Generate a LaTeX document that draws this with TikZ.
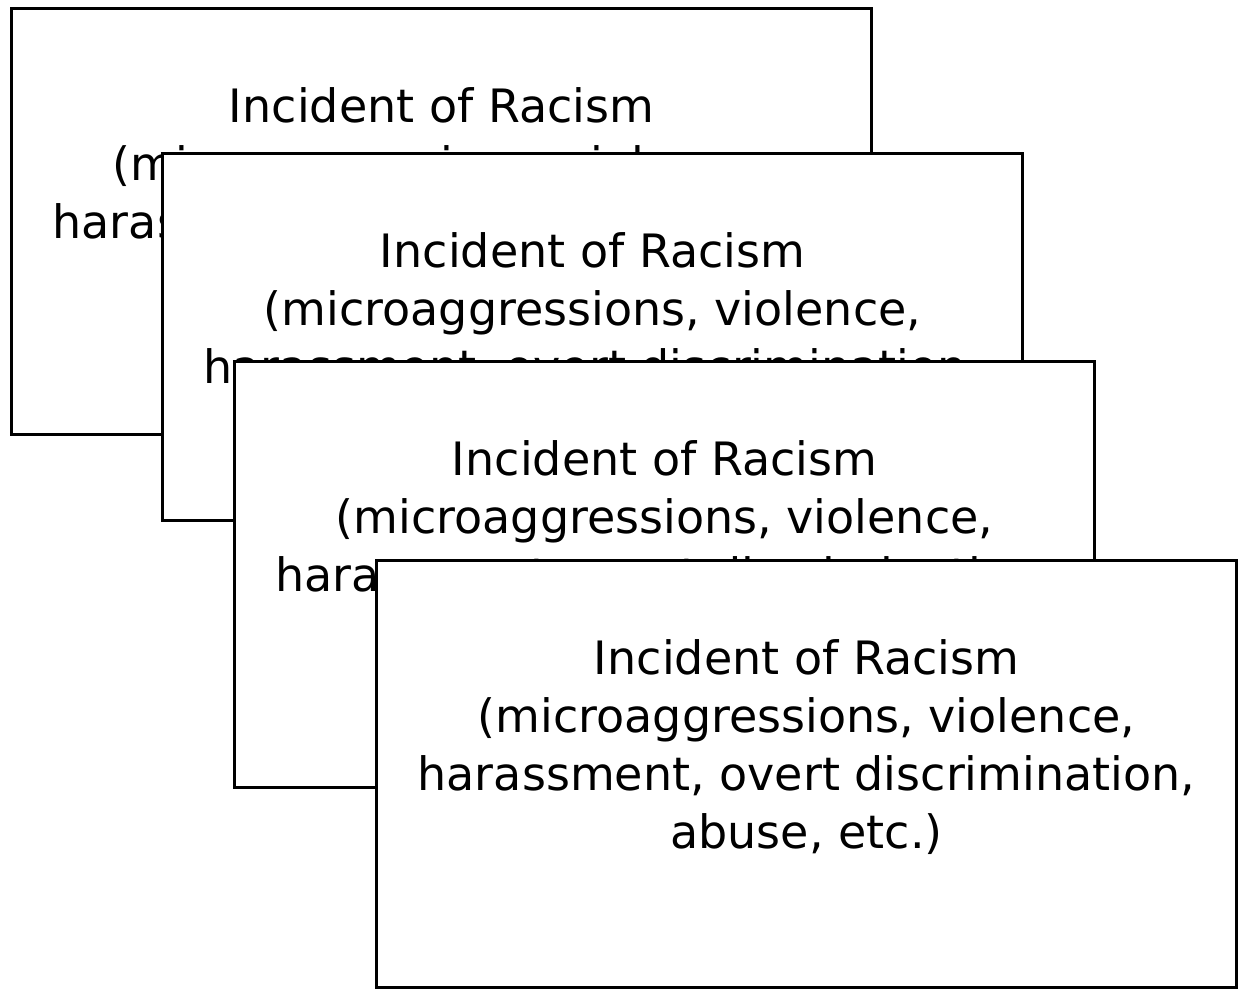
\documentclass[tikz,border=0pt]{standalone}
\usepackage{fontspec}
\setmainfont{DejaVu Sans}
\usetikzlibrary{calc}
\tikzset{
  card/.style={draw=black, fill=white, line width=3pt, anchor=north west, inner sep=0pt, minimum width=860pt},
  cardtext/.style={anchor=north, align=center, inner sep=0pt, font=\fontsize{46}{58}\selectfont}
}
\newcommand{\cardbody}{Incident of Racism\\(microaggressions, violence,\\harassment, overt discrimination,\\abuse, etc.)}
\begin{document}
\begin{tikzpicture}[x=1pt,y=-1pt]
\useasboundingbox (0,0) rectangle (1238,988);
% card 1
\node[card, minimum height=426pt] (c1) at (10,7) {};
\node[cardtext] (t1) at ($(c1.north)+(0,80)$) {\cardbody};
% card 2
\node[card, minimum height=367pt] (c2) at (161,152) {};
\node[cardtext] (t2) at ($(c2.north)+(0,80)$) {\cardbody};
% card 3
\node[card, minimum height=426pt] (c3) at (233,360) {};
\node[cardtext] (t3) at ($(c3.north)+(0,80)$) {\cardbody};
% card 4
\node[card, minimum height=427pt] (c4) at (375,559) {};
\node[cardtext] (t4) at ($(c4.north)+(0,80)$) {\cardbody};
\end{tikzpicture}
\end{document}
